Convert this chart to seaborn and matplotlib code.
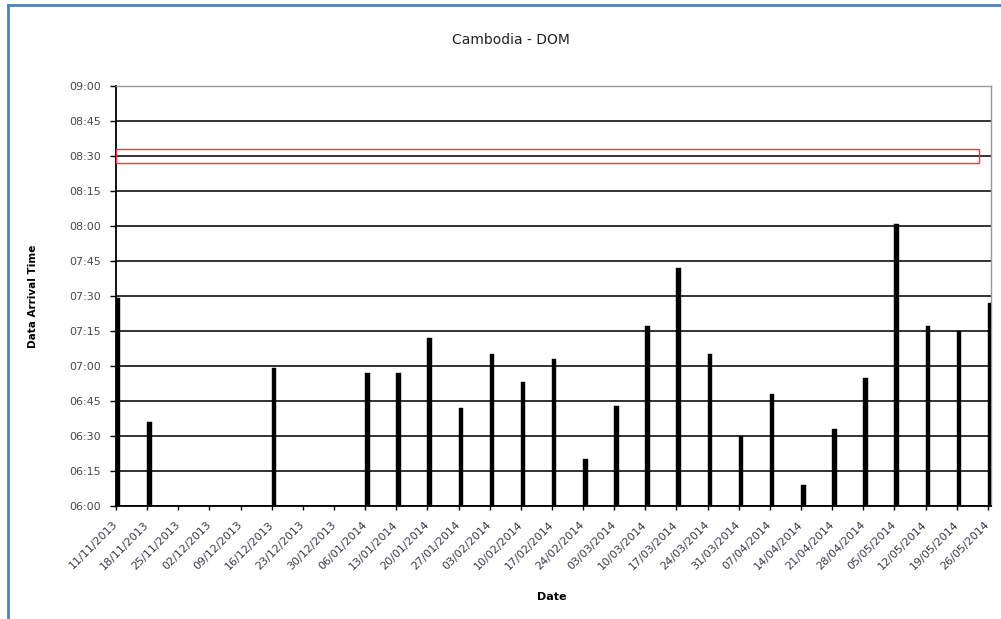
import matplotlib
matplotlib.use("Agg")
import matplotlib.pyplot as plt
import seaborn as sns
import numpy as np
import pandas as pd
from matplotlib.patches import Rectangle
from matplotlib.lines import Line2D

# ---- data ----
dates = ["11/11/2013", "18/11/2013", "25/11/2013", "02/12/2013", "09/12/2013",
         "16/12/2013", "23/12/2013", "30/12/2013", "06/01/2014", "13/01/2014",
         "20/01/2014", "27/01/2014", "03/02/2014", "10/02/2014", "17/02/2014",
         "24/02/2014", "03/03/2014", "10/03/2014", "17/03/2014", "24/03/2014",
         "31/03/2014", "07/04/2014", "14/04/2014", "21/04/2014", "28/04/2014",
         "05/05/2014", "12/05/2014", "19/05/2014", "26/05/2014"]
arrival = ["07:29", "06:36", None, None, None,
           "06:59", None, None, "06:57", "06:57",
           "07:12", "06:42", "07:05", "06:53", "07:03",
           "06:20", "06:43", "07:17", "07:42", "07:05",
           "06:30", "06:48", "06:09", "06:33", "06:55",
           "08:01", "07:17", "07:15", "07:27"]
y_ticks = ["06:00", "06:15", "06:30", "06:45", "07:00", "07:15", "07:30",
           "07:45", "08:00", "08:15", "08:30", "08:45", "09:00"]
target_low, target_high = "08:27", "08:33"
title = "Cambodia - DOM"


def to_min(s):
    h, m = s.split(":")
    return int(h) * 60 + int(m)


d = pd.to_datetime(dates, dayfirst=True)
day = (d - d[0]).days.to_numpy().astype(float)
vals = np.array([to_min(a) if a else np.nan for a in arrival], dtype=float)
df = pd.DataFrame({"day": day + 0.5, "minutes": vals}).dropna()

# ---- figure ----
fig = plt.figure(figsize=(10.01, 6.19), dpi=100)
ax = fig.add_axes([116 / 1001, 1 - 506 / 619, 875 / 1001, 420 / 619])

ax.set_axisbelow(True)
yt = [to_min(t) for t in y_ticks]
for v in yt[:-1]:
    ax.axhline(v, color="#222222", lw=1.3, zorder=0)

sns.barplot(data=df, x="day", y="minutes", native_scale=True, width=1 / 7,
            color="black", saturation=1, edgecolor="black", linewidth=0.3,
            ax=ax, zorder=3)

ax.set_xlim(0, 196.7)
ax.set_ylim(yt[0], yt[-1])
ax.set_yticks(yt)
ax.set_yticklabels(y_ticks, fontsize=8, color="#4a4a4a")
ax.set_xticks(day)
ax.set_xticklabels(dates, fontsize=8, color="#3c3a48", rotation=45,
                   ha="right", va="center", rotation_mode="anchor")
ax.tick_params(axis="y", direction="out", length=4, width=1, pad=7, color="black")
ax.tick_params(axis="x", direction="out", length=3, width=1, pad=9, color="black")

for s in ["left", "bottom"]:
    ax.spines[s].set_color("black")
    ax.spines[s].set_linewidth(1.3)
for s in ["top", "right"]:
    ax.spines[s].set_color("#999999")
    ax.spines[s].set_linewidth(1.0)

ax.add_patch(Rectangle((0, to_min(target_low)), 194.1,
                       to_min(target_high) - to_min(target_low),
                       fill=False, edgecolor="#e8393f", lw=1.0, zorder=4))

ax.set_xlabel("Date", fontsize=8, fontweight="bold", labelpad=4)
ax.set_ylabel("Data Arrival Time", fontsize=7.5, fontweight="bold", labelpad=12)
ax.xaxis.set_label_coords((552 - 116) / 875, -(592 - 506) / 420)
ax.yaxis.set_label_coords(-(116 - 38) / 875, 0.5)

fig.text(511 / 1001, 1 - 40 / 619, title, fontsize=10, ha="center", va="center",
         color="#222222")

# outer chart frame (blue)
fig.add_artist(Line2D([8 / 1001, 1], [1 - 5 / 619, 1 - 5 / 619],
                      color="#4f81bd", lw=2, transform=fig.transFigure))
fig.add_artist(Line2D([8 / 1001, 8 / 1001], [0, 1 - 5 / 619],
                      color="#4f81bd", lw=2, transform=fig.transFigure))

fig.savefig("out.png", dpi=100, facecolor="white")
